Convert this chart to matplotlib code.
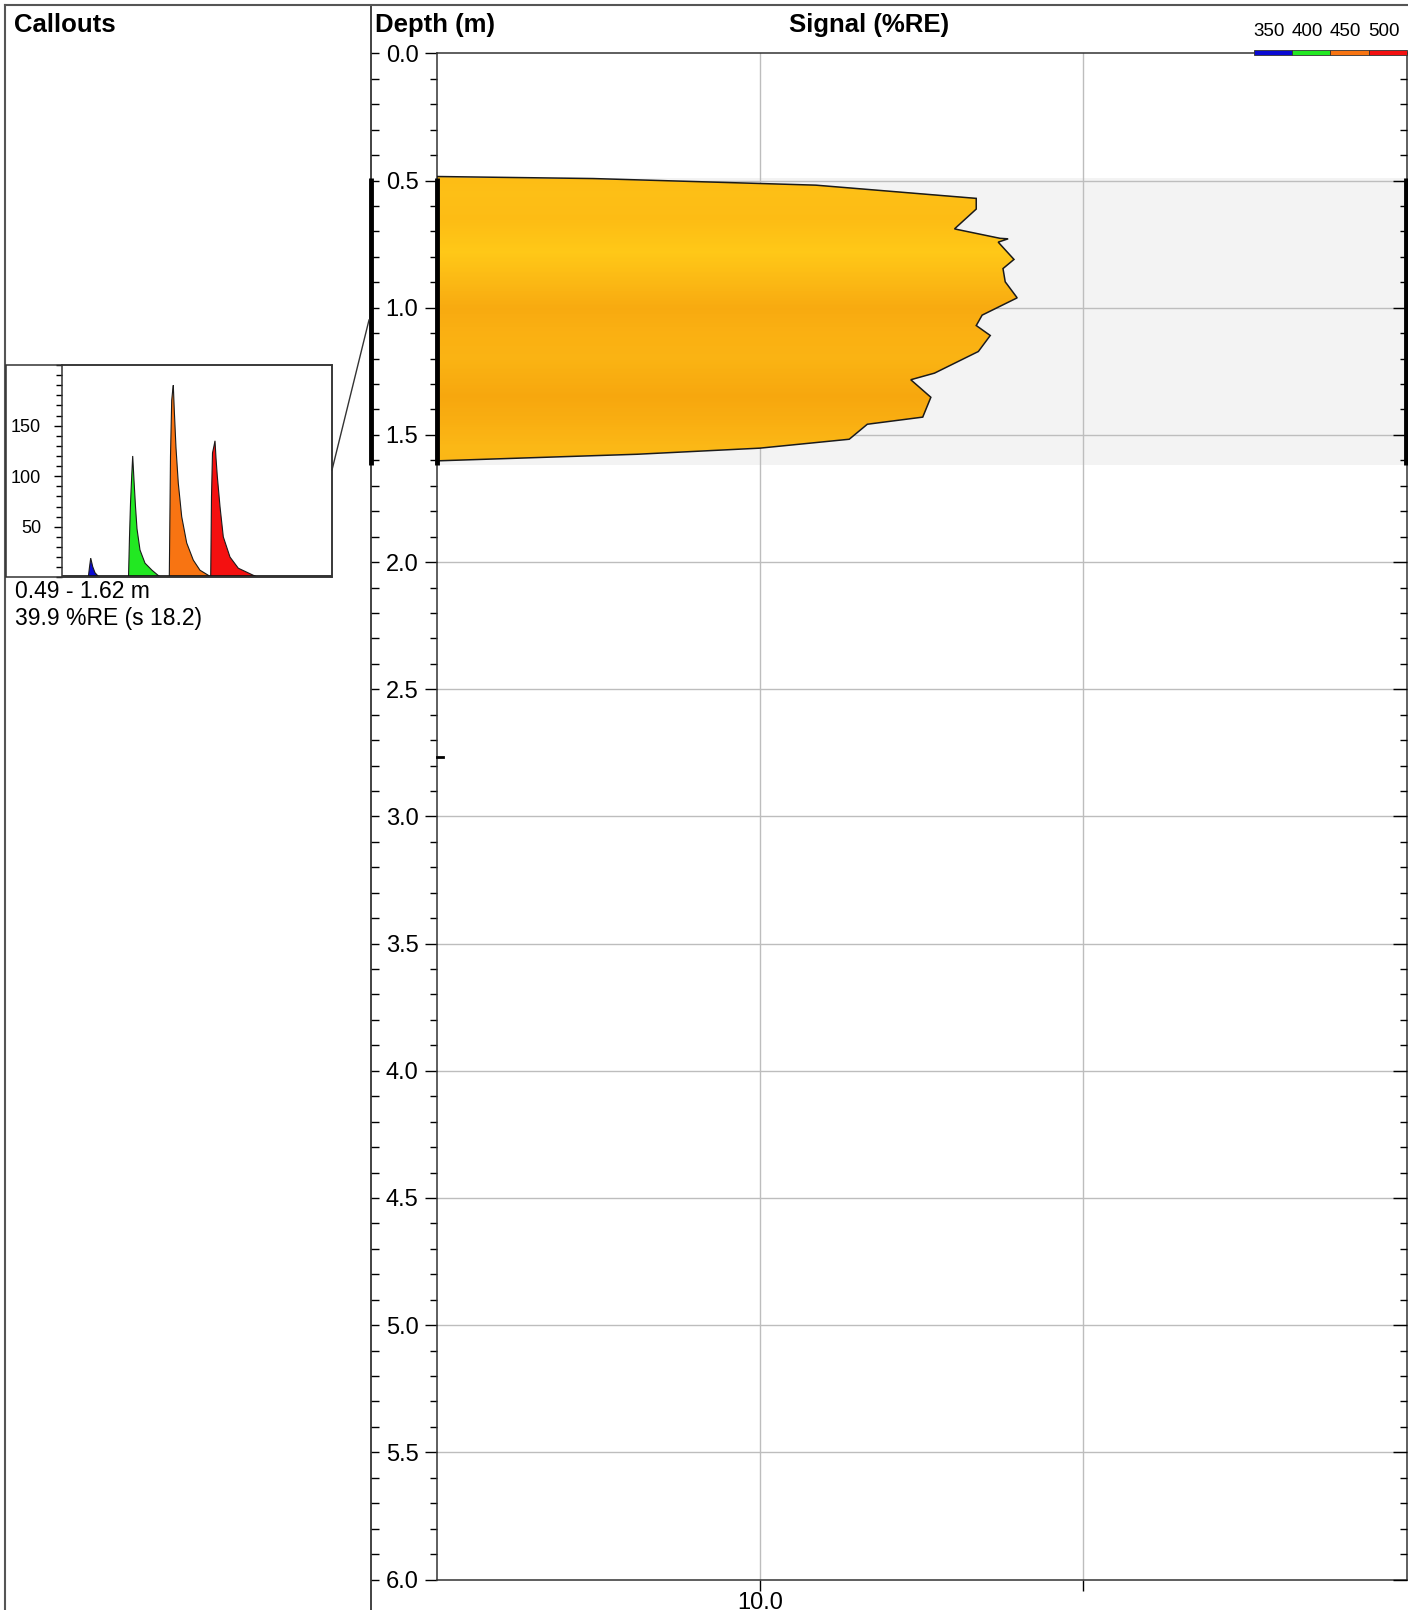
import matplotlib.pyplot as plt
import matplotlib.transforms as mtransforms
from matplotlib.lines import Line2D
from matplotlib.patches import Rectangle, Polygon
from matplotlib.colors import LinearSegmentedColormap
from matplotlib.ticker import MultipleLocator, FixedLocator, NullLocator
import numpy as np

plt.rcParams['font.family'] = ['Liberation Sans', 'DejaVu Sans']

W, H = 1408, 1610

# signal profile (depth in m, signal in %RE)
profile_depth = [0.484, 0.492, 0.518, 0.570, 0.612, 0.690, 0.727, 0.729, 0.742,
                 0.810, 0.846, 0.898, 0.961, 1.029, 1.070, 1.109, 1.172, 1.257,
                 1.283, 1.352, 1.430, 1.458, 1.517, 1.552, 1.576, 1.602]
profile_signal = [1.0, 3.05, 14.9, 46.7, 46.7, 40.0, 55.3, 58.6, 54.6,
                  61.1, 56.5, 57.4, 62.5, 48.7, 46.7, 51.6, 47.4, 34.7,
                  29.3, 33.8, 31.9, 21.5, 18.9, 10.0, 4.17, 1.0]
interval_top, interval_bot = 0.49, 1.62
marker_depth = 2.765
depth_ticks = [0.0, 0.5, 1.0, 1.5, 2.0, 2.5, 3.0, 3.5, 4.0, 4.5, 5.0, 5.5, 6.0]

# callout waveform (channel, amplitude) per wavelength band
blue_x = [88.3, 89.5, 90.7, 92.7, 95.0, 98.3, 100.0]
blue_y = [0, 10, 19, 10.5, 4.5, 1, 0]
green_x = [128.5, 129.5, 130.5, 131.7, 132.7, 134.0, 135.5, 137.0, 140.0, 145.0, 152.0, 158.0, 161.0]
green_y = [0, 40, 73, 100, 120, 96, 70, 48, 27, 14, 7, 2, 0]
orange_x = [169.3, 170.5, 171.7, 172.7, 173.3, 174.3, 176.0, 178.3, 181.7, 186.7, 193.3, 200.0, 208.3, 211.0]
orange_y = [0, 120, 175, 185, 190, 165, 128, 93, 60, 34, 17, 7, 2, 0]
red_x = [210.7, 211.5, 212.5, 214.0, 215.0, 216.0, 217.3, 220.0, 223.3, 230.0, 238.3, 253.3, 258.0]
red_y = [0, 80, 123, 130, 135, 118, 100, 70, 40, 20, 9, 2, 0]
band_labels = ['350', '400', '450', '500']
band_colors = ['#0a0ad2', '#22e822', '#f87412', '#f41010']


def fx(x):
    return x / W


def fy(y):
    return 1 - y / H


fig = plt.figure(figsize=(W / 100, H / 100), dpi=100)

# main track
y_top, y_bot = 53.4, 1579.5
x_left, x_right = 436.5, 1406.5
ax = fig.add_axes([fx(x_left), fy(y_bot), fx(x_right - x_left), (y_bot - y_top) / H])
ax.set_xscale('log')
ax.set_xlim(1, 1000)
ax.set_ylim(6, 0)
ax.axhspan(interval_top, interval_bot, color='#f3f3f3', zorder=0, lw=0)
for d in depth_ticks[1:-1]:
    ax.axhline(d, color='#bdbdbd', lw=1, zorder=1)
for v in [10, 100]:
    ax.axvline(v, color='#bdbdbd', lw=1, zorder=1)

# gradient fill clipped to profile
grad_depth = [0.45, 0.55, 0.65, 0.78, 0.90, 1.00, 1.10, 1.20, 1.35, 1.45, 1.55, 1.65]
grad_cols = ['#fdbb14', '#fdbf16', '#fdbc14', '#ffc817', '#fbb814', '#f8aa10',
             '#fab012', '#fab313', '#f7a70e', '#f9ae11', '#fbb816', '#fbb616']
cmap = LinearSegmentedColormap.from_list(
    'sig', [((d - 0.45) / 1.2, c) for d, c in zip(grad_depth, grad_cols)])
yy = np.linspace(0.45, 1.65, 241)
cc = ((yy[:-1] + yy[1:]) / 2).reshape(-1, 1)
mesh = ax.pcolormesh([1, 1000], yy, cc, cmap=cmap, vmin=0.45, vmax=1.65, zorder=2, shading='flat')
poly = Polygon(list(zip(profile_signal, profile_depth)), closed=True,
               facecolor='none', edgecolor='#1a1a1a', lw=1.1, zorder=3)
ax.add_patch(poly)
mesh.set_clip_path(poly)

for s in ['top', 'bottom', 'left', 'right']:
    ax.spines[s].set_color('#333333')
    ax.spines[s].set_linewidth(1.1)
ax.yaxis.set_major_locator(FixedLocator(depth_ticks))
ax.yaxis.set_minor_locator(MultipleLocator(0.1))
ax.set_yticklabels([f'{d:.1f}' for d in depth_ticks])
ax.tick_params(axis='y', which='major', direction='out', length=9, width=1, labelsize=17, pad=4)
ax.tick_params(axis='y', which='minor', direction='out', length=5, width=1)
ax.xaxis.set_major_locator(FixedLocator([10, 100]))
ax.xaxis.set_minor_locator(NullLocator())
ax.set_xticklabels(['10.0', ''])
ax.tick_params(axis='x', which='major', direction='out', length=8, width=1, labelsize=17, pad=1)

axr = ax.twinx()
axr.set_ylim(6, 0)
axr.yaxis.set_major_locator(FixedLocator(depth_ticks))
axr.yaxis.set_minor_locator(MultipleLocator(0.1))
axr.tick_params(axis='y', which='major', direction='in', length=10, width=1, labelright=False)
axr.tick_params(axis='y', which='minor', direction='in', length=5, width=1)
for s in axr.spines.values():
    s.set_visible(False)

# marker tick on depth axis
ax.plot([1, 1.05], [marker_depth, marker_depth], color='black', lw=2, zorder=5, clip_on=False)

# left ruler
ruler_x = 371
axl = fig.add_axes([fx(ruler_x), fy(y_bot), 0.0005, (y_bot - y_top) / H])
axl.set_ylim(6, 0)
axl.set_xticks([])
axl.yaxis.set_major_locator(FixedLocator(depth_ticks))
axl.yaxis.set_minor_locator(MultipleLocator(0.1))
axl.tick_params(axis='y', which='major', direction='in', length=6, width=1, labelleft=False)
axl.tick_params(axis='y', which='minor', direction='in', length=6, width=1)
for s in axl.spines.values():
    s.set_visible(False)
axl.patch.set_alpha(0)

fig.add_artist(Line2D([fx(ruler_x), fx(ruler_x)], [fy(5), 0], color='#222222', lw=1.2))
fig.add_artist(Line2D([fx(5), fx(5)], [fy(5), 0], color='#555555', lw=1.5))
fig.add_artist(Line2D([fx(5), 1], [fy(5), fy(5)], color='#555555', lw=1.5))

# interval bars
bt = mtransforms.blended_transform_factory(fig.transFigure, ax.transData)
for xp in [ruler_x, x_left, x_right - 1]:
    fig.add_artist(Line2D([fx(xp), fx(xp)], [interval_top, interval_bot], transform=bt,
                          color='black', lw=3.5, solid_capstyle='butt'))

# headers
fig.text(fx(14), fy(25), 'Callouts', fontsize=18.5, fontweight='bold', va='center', ha='left')
fig.text(fx(375), fy(25), 'Depth (m)', fontsize=18.5, fontweight='bold', va='center', ha='left')
fig.text(fx(869), fy(25), 'Signal (%RE)', fontsize=18.5, fontweight='bold', va='center', ha='center')

# wavelength legend
seg_edges = [1254, 1292, 1330, 1369, 1407]
for i, (lab, col) in enumerate(zip(band_labels, band_colors)):
    x0, x1 = seg_edges[i], seg_edges[i + 1]
    fig.add_artist(Rectangle((fx(x0), fy(55)), fx(x1 - x0), 5 / H, transform=fig.transFigure,
                             facecolor=col, edgecolor='#333333', lw=0.6))
    fig.text(fx((x0 + x1) / 2 - 4), fy(32), lab, fontsize=13.5, ha='center', va='center')

# callout inset
box_l, box_t, box_r, box_b = 6, 365, 332, 577.3
in_l = 62
fig.add_artist(Rectangle((fx(box_l), fy(box_b)), fx(box_r - box_l), (box_b - box_t) / H,
                         transform=fig.transFigure, facecolor='none', edgecolor='#333333',
                         lw=1.1, zorder=5))
axi = fig.add_axes([fx(in_l), fy(box_b), fx(box_r - in_l), (box_b - box_t) / H])
axi.set_xlim(62, 332)
axi.set_ylim(0, 210)
for xs, ys, col in [(blue_x, blue_y, band_colors[0]), (green_x, green_y, band_colors[1]),
                    (orange_x, orange_y, band_colors[2]), (red_x, red_y, band_colors[3])]:
    axi.fill(xs, ys, facecolor=col, edgecolor='#1a1a1a', lw=0.8)
axi.plot([62, 332], [0.8, 0.8], color='#111111', lw=1.2)
axi.set_xticks([])
axi.yaxis.set_major_locator(FixedLocator([50, 100, 150]))
axi.yaxis.set_minor_locator(MultipleLocator(10))
axi.tick_params(axis='y', which='major', direction='out', length=6, width=1, labelsize=13, pad=9)
axi.tick_params(axis='y', which='minor', direction='out', length=4, width=1)
for s in axi.spines.values():
    s.set_color('#333333')
    s.set_linewidth(1.1)

fig.add_artist(Line2D([fx(box_r), fx(ruler_x - 2)], [fy(470), fy(320)], color='#333333', lw=1))

fig.text(fx(15), fy(592), '0.49 - 1.62 m', fontsize=16.5, ha='left', va='center')
fig.text(fx(15), fy(619), '39.9 %RE (s 18.2)', fontsize=16.5, ha='left', va='center')

fig.savefig('out.png', dpi=100)
